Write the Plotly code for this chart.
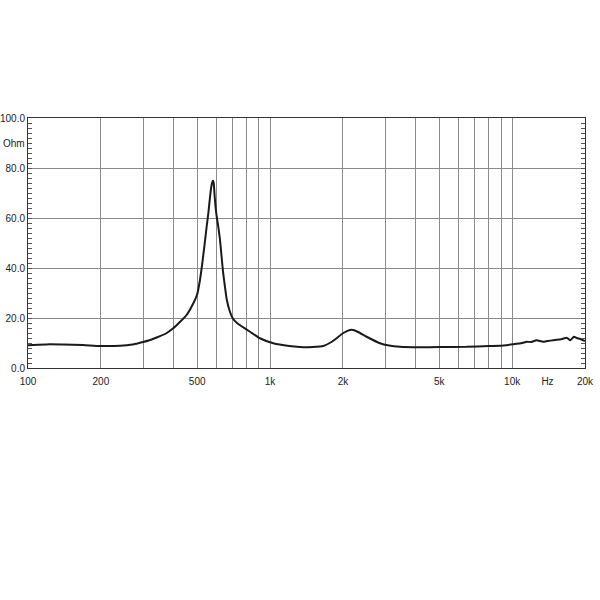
import plotly.graph_objects as go

freq_hz = [100, 110, 123, 140, 169, 198, 240, 270, 290, 315, 340, 370, 398, 425, 452, 482,
           500, 513, 525, 538, 547, 556, 565, 573, 580, 585, 590, 596, 602, 610, 620, 630,
           640, 650, 662, 680, 700, 730, 760, 826, 908, 1031, 1200, 1371, 1500, 1659, 1800,
           1884, 2000, 2138, 2200, 2300, 2506, 2844, 3100, 3440, 4140, 5000, 6486, 8000, 8900,
           10100, 11000, 11500, 12000, 12600, 13400, 14000, 14800, 16100, 16800, 17400, 18000,
           18500, 19100, 20000]
impedance_ohm = [9.1, 9.3, 9.5, 9.4, 9.2, 8.8, 8.9, 9.4, 10.1, 11.0, 12.2, 13.7, 15.9, 18.5, 21.2, 25.9,
                 29.5, 35.0, 42.0, 50.5, 56.5, 62.0, 68.5, 73.0, 75.0, 74.0, 69.0, 64.0, 60.5, 57.0, 52.0, 45.0,
                 38.0, 33.0, 27.5, 23.0, 20.0, 18.0, 16.8, 14.5, 11.9, 9.9, 8.8, 8.3, 8.4, 8.8, 10.5,
                 11.9, 13.9, 15.2, 15.2, 14.5, 12.5, 9.9, 9.0, 8.5, 8.3, 8.4, 8.5, 8.8, 8.9,
                 9.5, 10.0, 10.5, 10.4, 11.1, 10.5, 10.8, 11.1, 11.6, 12.1, 11.1, 12.5,
                 12.0, 11.6, 10.8]

x_tick_vals = [100, 200, 500, 1000, 2000, 5000, 10000, 14000, 20000]
x_tick_text = ["100", "200", "500", "1k", "2k", "5k", "10k", "Hz", "20k"]
x_grid_vals = [200, 300, 400, 500, 600, 700, 800, 900, 1000,
               2000, 3000, 4000, 5000, 6000, 7000, 8000, 9000, 10000]
y_tick_vals = [0, 20, 40, 60, 80, 100]
y_tick_text = ["0.0", "20.0", "40.0", "60.0", "80.0", "100.0"]
y_unit_label = "Ohm"

fig = go.Figure()
fig.add_trace(go.Scatter(x=freq_hz, y=impedance_ohm, mode="lines",
                         line=dict(color="#1a1a1a", width=2, shape="spline", smoothing=0.4),
                         showlegend=False, hoverinfo="skip"))

font = dict(family="Liberation Sans, Arial, sans-serif", size=10, color="#222")

fig.update_layout(
    width=600, height=600,
    margin=dict(l=28, r=15, t=118, b=232),
    paper_bgcolor="white", plot_bgcolor="white",
    font=font,
    xaxis=dict(type="log", range=[2, 4.30103], tickvals=x_tick_vals, ticktext=x_tick_text,
               showgrid=False, ticks="", zeroline=False, automargin=False,
               ticklabelstandoff=4,
               showline=True, linecolor="#333", linewidth=1, mirror=True,
               minor=dict(tickvals=x_grid_vals, showgrid=True, gridcolor="#8a8a8a",
                          gridwidth=1, ticks="")),
    yaxis=dict(range=[0, 100], tickvals=y_tick_vals, ticktext=y_tick_text,
               showgrid=True, gridcolor="#8a8a8a", gridwidth=1, zeroline=False,
               automargin=False,
               ticks="inside", ticklen=4, tickcolor="#555",
               showline=True, linecolor="#333", linewidth=1, mirror="allticks",
               ticklabelstandoff=0,
               minor=dict(dtick=2, ticks="inside", ticklen=4, tickcolor="#555", showgrid=False)),
    annotations=[dict(x=0, xref="paper", xanchor="right", xshift=-1,
                      y=90, yref="y", text=y_unit_label, showarrow=False, font=font)],
)

fig.write_html("out.html")
